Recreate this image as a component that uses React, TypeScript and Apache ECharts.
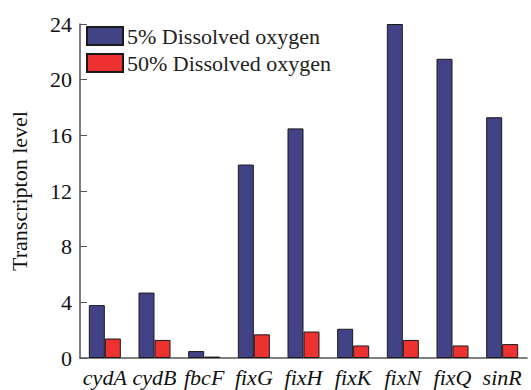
import React, { useEffect, useRef } from "react";
import * as echarts from "echarts";

const categories = ["cydA", "cydB", "fbcF", "fixG", "fixH", "fixK", "fixN", "fixQ", "sinR"];
const lowOxygen = [3.8, 4.7, 0.5, 13.9, 16.5, 2.1, 24.0, 21.5, 17.3];
const highOxygen = [1.4, 1.3, 0.1, 1.7, 1.9, 0.9, 1.3, 0.9, 1.0];
const seriesNames = ["5% Dissolved oxygen", "50% Dissolved oxygen"];

const FONT = "'Liberation Serif', 'Times New Roman', serif";

export default function App() {
  const ref = useRef<HTMLDivElement>(null);
  useEffect(() => {
    if (!ref.current) return;
    const chart = echarts.init(ref.current, undefined, { renderer: "svg" });
    chart.setOption({
      animation: false,
      backgroundColor: "#ffffff",
      textStyle: { fontFamily: FONT },
      grid: { left: 70, right: 4, top: 24, bottom: 32 },
      legend: {
        orient: "vertical",
        left: 86,
        top: 25,
        padding: 0,
        itemWidth: 36,
        itemHeight: 18,
        itemGap: 5,
        icon: "rect",
        textStyle: { fontFamily: FONT, fontSize: 22, lineHeight: 18, color: "#222", padding: [0, 0, 0, -1] },
        data: seriesNames,
      },
      xAxis: {
        type: "category",
        data: categories,
        axisLine: { lineStyle: { color: "#555", width: 1.5 } },
        axisTick: { show: false },
        axisLabel: {
          fontFamily: FONT,
          fontStyle: "italic",
          fontSize: 22,
          color: "#111",
          margin: 8,
          interval: 0,
        },
      },
      yAxis: {
        type: "value",
        min: 0,
        max: 24,
        interval: 4,
        name: "Transcripton level",
        nameLocation: "middle",
        nameGap: 50,
        nameTextStyle: { fontFamily: FONT, fontSize: 22, color: "#111" },
        axisLine: { show: true, lineStyle: { color: "#555", width: 1.5 } },
        axisTick: { show: true, inside: true, length: 7, lineStyle: { color: "#555" } },
        splitLine: { show: false },
        axisLabel: { fontFamily: FONT, fontSize: 22, color: "#111", margin: 8 },
      },
      series: [
        {
          name: seriesNames[0],
          type: "bar",
          data: lowOxygen,
          barWidth: 16,
          barGap: "0%",
          itemStyle: { color: "#424287", borderColor: "#1a1a1a", borderWidth: 1 },
        },
        {
          name: seriesNames[1],
          type: "bar",
          data: highOxygen,
          barWidth: 16,
          barGap: "0%",
          itemStyle: { color: "#ee3131", borderColor: "#1a1a1a", borderWidth: 1 },
        },
      ],
    });
    return () => chart.dispose();
  }, []);
  return <div ref={ref} style={{ width: 531, height: 390, position: "absolute", left: 0, top: 0 }} />;
}
